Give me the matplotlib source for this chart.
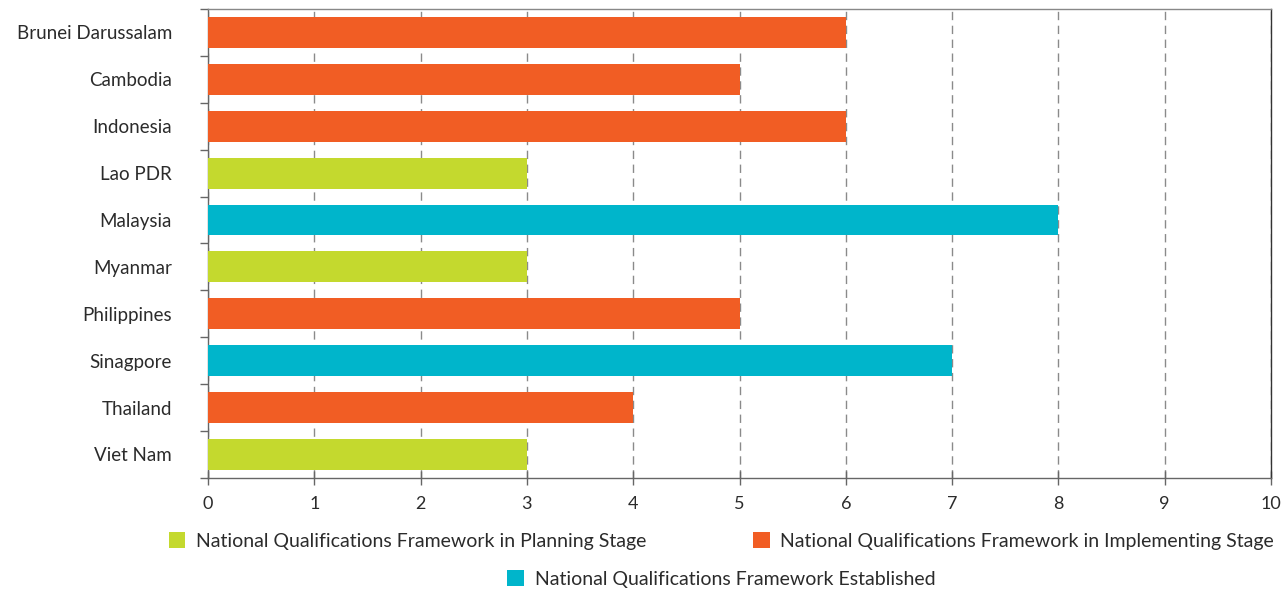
import matplotlib.pyplot as plt
from matplotlib.patches import Patch
import numpy as np

countries = ['Brunei Darussalam', 'Cambodia', 'Indonesia', 'Lao PDR', 'Malaysia',
             'Myanmar', 'Philippines', 'Sinagpore', 'Thailand', 'Viet Nam']
values = [6, 5, 6, 3, 8, 3, 5, 7, 4, 3]
stages = ['impl', 'impl', 'impl', 'plan', 'est', 'plan', 'impl', 'est', 'impl', 'plan']

colors = {'plan': '#C4D92E', 'impl': '#F15D24', 'est': '#00B5CB'}
labels = {'plan': 'National Qualifications Framework in Planning Stage',
          'impl': 'National Qualifications Framework in Implementing Stage',
          'est': 'National Qualifications Framework Established'}

plt.rcParams['font.family'] = ['Lato', 'DejaVu Sans']
text_col = '#2b2b2b'

fig = plt.figure(figsize=(12.88, 5.90), dpi=100)
ax = fig.add_axes([0.1615, 0.19, 0.8253, 0.7947])

y = np.arange(len(countries))
ax.barh(y, values, height=0.66, color=[colors[s] for s in stages], zorder=3)
ax.set_ylim(len(countries) - 0.5, -0.5)
ax.set_xlim(0, 10)

ax.set_xticks(range(11))
ax.grid(axis='x', linestyle=(0, (6, 4)), color='#8a8a8a', linewidth=1, zorder=0)
ax.set_yticks(y)
ax.set_yticklabels(countries)
ax.set_yticks(np.arange(-0.5, len(countries), 1), minor=True)
ax.tick_params(axis='y', which='major', length=0, pad=26, labelsize=13.5, labelcolor=text_col)
ax.tick_params(axis='y', which='minor', length=6, width=1, color='#666666', direction='out')
ax.tick_params(axis='x', length=10, width=1, color='#666666', direction='inout',
               pad=8, labelsize=13, labelcolor=text_col)
for s in ['left', 'bottom', 'top', 'right']:
    ax.spines[s].set_color('#666666')
    ax.spines[s].set_linewidth(1)
ax.spines['top'].set_color('#888888')
ax.spines['right'].set_color('#333333')

def handle(k):
    return Patch(facecolor=colors[k], edgecolor='none')

leg1 = fig.legend([handle('plan'), handle('impl')], [labels['plan'], labels['impl']],
                  ncol=2, loc='center', bbox_to_anchor=(0.56, 0.083), frameon=False,
                  fontsize=14, handlelength=0.85, handleheight=0.85, handletextpad=0.55,
                  columnspacing=5.5, labelcolor=text_col)
leg2 = fig.legend([handle('est')], [labels['est']],
                  loc='center', bbox_to_anchor=(0.56, 0.019), frameon=False,
                  fontsize=14, handlelength=0.85, handleheight=0.85, handletextpad=0.55,
                  labelcolor=text_col)

fig.savefig('out.png', dpi=100)
